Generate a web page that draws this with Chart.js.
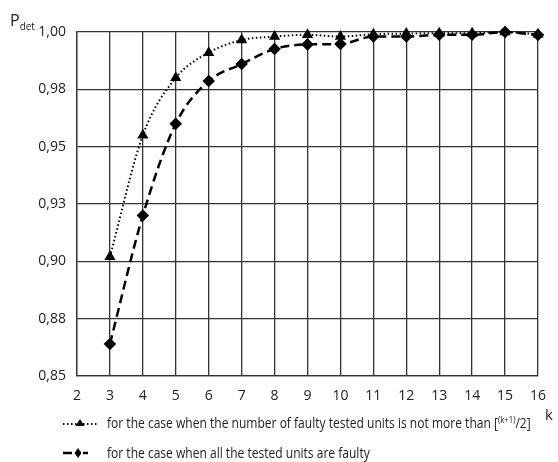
<!DOCTYPE html>
<html>
<head>
<meta charset="utf-8">
<script src="https://cdn.jsdelivr.net/npm/chart.js@4/dist/chart.umd.min.js"></script>
<style>
  body { margin: 0; background: #fff; }
  #wrap { position: relative; width: 558px; height: 462px; font-family: "Open Sans", sans-serif; color: #222; }
  #grafica { position: absolute; left: 0; top: 0; }
  .txt { position: absolute; white-space: nowrap; font-size: 14px; }
  .leyenda { transform: scaleX(0.86); transform-origin: left center; }
  .sub { font-size: 10px; vertical-align: -4px; }
  sup { font-size: 9px; vertical-align: 5px; }
  svg { position: absolute; }
</style>
</head>
<body>
<div id="wrap">
  <canvas id="grafica" width="558" height="462"></canvas>
  <div class="txt" style="left:10px; top:9px; font-size:16px;">P<span class="sub">det</span></div>
  <div class="txt" style="left:545px; top:404px; font-size:15px;">k</div>
  <svg style="left:60px; top:415px;" width="44" height="16">
    <line x1="3" y1="9" x2="37" y2="9" stroke="#000" stroke-width="2" stroke-dasharray="1.5,2.5"/>
    <polygon points="20,4 24.5,11 15.5,11" fill="#000"/>
  </svg>
  <div class="txt leyenda" style="left:107px; top:413px;">for the case when the number of faulty tested units is not more than [<sup>(k+1)</sup>/2]</div>
  <svg style="left:60px; top:445px;" width="44" height="16">
    <line x1="3" y1="8" x2="12" y2="8" stroke="#000" stroke-width="2.5"/>
    <line x1="23" y1="8" x2="28" y2="8" stroke="#000" stroke-width="2.5"/>
    <polygon points="18,3 21.5,8 18,13 14.5,8" fill="#000"/>
  </svg>
  <div class="txt leyenda" style="left:107px; top:443px;">for the case when all the tested units are faulty</div>
</div>
<script>
// valores de k
const valoresK = [3, 4, 5, 6, 7, 8, 9, 10, 11, 12, 13, 14, 15, 16];
// P_det cuando las unidades defectuosas no superan (k+1)/2
const pdetMitad = [0.902, 0.955, 0.980, 0.991, 0.9965, 0.998, 0.9988, 0.998, 0.999, 0.9993, 0.9995, 0.9995, 1.0, 0.999];
// P_det cuando todas las unidades son defectuosas
const pdetTodas = [0.864, 0.920, 0.960, 0.9786, 0.986, 0.9926, 0.9946, 0.9948, 0.998, 0.998, 0.9988, 0.9988, 1.0, 0.9987];
// marcas del eje Y
const yTicks = [0.85, 0.875, 0.90, 0.925, 0.95, 0.975, 1.00];
const yTickLabels = ['0,85', '0,88', '0,90', '0,93', '0,95', '0,98', '1,00'];
const xTicks = [2, 3, 4, 5, 6, 7, 8, 9, 10, 11, 12, 13, 14, 15, 16];

const fuente = { family: '"Open Sans", sans-serif', size: 14 };

const ctx = document.getElementById('grafica').getContext('2d');
new Chart(ctx, {
    type: 'line',
    data: {
        datasets: [
            {
                label: 'mitad',
                data: valoresK.map((k, i) => ({ x: k, y: pdetMitad[i] })),
                borderColor: '#000',
                backgroundColor: '#000',
                borderWidth: 2,
                borderDash: [1.5, 2.5],
                pointStyle: 'triangle',
                pointRadius: 4.5,
                cubicInterpolationMode: 'monotone',
                clip: false
            },
            {
                label: 'todas',
                data: valoresK.map((k, i) => ({ x: k, y: pdetTodas[i] })),
                borderColor: '#000',
                backgroundColor: '#000',
                borderWidth: 2.5,
                borderDash: [9, 5],
                pointStyle: 'rectRot',
                pointRadius: 4.5,
                cubicInterpolationMode: 'monotone',
                clip: false
            }
        ]
    },
    options: {
        responsive: false,
        animation: false,
        layout: { padding: { left: 0, top: 32, right: 16, bottom: 0 } },
        plugins: { legend: { display: false }, tooltip: { enabled: false } },
        scales: {
            x: {
                type: 'linear',
                min: 2,
                max: 16,
                afterBuildTicks: scale => { scale.ticks = xTicks.map(v => ({ value: v })); },
                afterFit: scale => { scale.height = 86; },
                ticks: { color: '#222', font: fuente, padding: 12, callback: v => String(v) },
                grid: { color: '#333', lineWidth: 1.3, drawTicks: false },
                border: { color: '#333', width: 1.3 }
            },
            y: {
                min: 0.85,
                max: 1.0,
                afterBuildTicks: scale => { scale.ticks = yTicks.map(v => ({ value: v })); },
                afterFit: scale => { scale.width = 77; },
                ticks: {
                    color: '#222',
                    font: fuente,
                    padding: 11,
                    callback: (v, i) => yTickLabels[i]
                },
                grid: { color: '#333', lineWidth: 1.3, drawTicks: false },
                border: { color: '#333', width: 1.3 }
            }
        }
    }
});
</script>
</body>
</html>
